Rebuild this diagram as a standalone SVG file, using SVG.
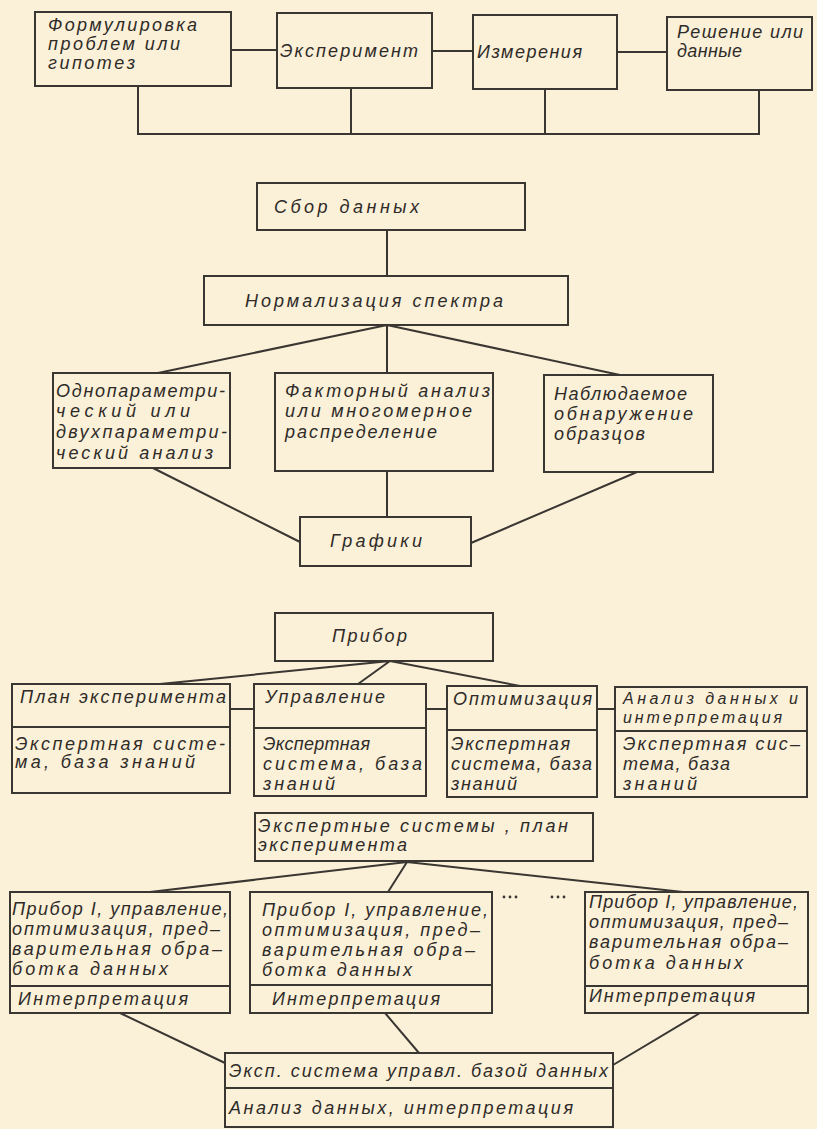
<svg xmlns="http://www.w3.org/2000/svg" width="817" height="1129" viewBox="0 0 817 1129">
<style>
.bg{fill:#fbf0d8}
.box{fill:none;stroke:#3a3632;stroke-width:2}
.ln{fill:none;stroke:#3a3632;stroke-width:2}
text{font-family:"Liberation Sans","DejaVu Sans",sans-serif;font-style:italic;font-size:18px;fill:#2e2b28}
.sm{font-size:16px}
.dot{fill:#3a3632}
</style>
<rect class="bg" x="0" y="0" width="817" height="1129"/>

<g id="connectors">
<path class="ln" d="M231,50 H277 M432,51 H473 M617,52 H667"/>
<path class="ln" d="M138,86 V134 H759 V90 M351,88 V134 M545,89 V134"/>
<path class="ln" d="M387,230 V276"/>
<path class="ln" d="M387,325 L158,373 M387,325 V373 M387,325 L620,375"/>
<path class="ln" d="M153,468 L300,542 M387,471 V517 M637,472 L471,543"/>
<path class="ln" d="M390,661 L160,684 M390,661 L358,684 M390,661 L520,686"/>
<path class="ln" d="M230,709 H254 M426,709 H447 M597,709 H615"/>
<path class="ln" d="M407,862 L150,892 M407,862 L388,892 M407,862 L683,892"/>
<path class="ln" d="M120,1013 L225,1063 M385,1013 L419,1053 M700,1013 L613,1065"/>
</g>

<g id="n-formulation">
<rect class="box" x="35" y="12" width="196" height="74"/>
<text x="48" y="31" textLength="149" lengthAdjust="spacing">Формулировка</text>
<text x="48" y="50" textLength="132" lengthAdjust="spacing">проблем  или</text>
<text x="48" y="69" textLength="87" lengthAdjust="spacing">гипотез</text>
</g>
<g id="n-experiment">
<rect class="box" x="277" y="13" width="155" height="75"/>
<text x="280" y="57" textLength="138" lengthAdjust="spacing">Эксперимент</text>
</g>
<g id="n-measure">
<rect class="box" x="473" y="15" width="144" height="74"/>
<text x="477" y="58" textLength="105" lengthAdjust="spacing">Измерения</text>
</g>
<g id="n-solution">
<rect class="box" x="667" y="17" width="145" height="73"/>
<text x="677" y="38" textLength="126" lengthAdjust="spacing">Решение или</text>
<text x="677" y="57" textLength="65" lengthAdjust="spacing">данные</text>
</g>

<g id="n-collect">
<rect class="box" x="257" y="183" width="268" height="47"/>
<text x="274" y="213" textLength="145" lengthAdjust="spacing">Сбор   данных</text>
</g>
<g id="n-normalize">
<rect class="box" x="204" y="276" width="364" height="49"/>
<text x="245" y="307" textLength="258" lengthAdjust="spacing">Нормализация  спектра</text>
</g>
<g id="n-oneparam">
<rect class="box" x="53" y="373" width="177" height="95"/>
<text x="56" y="397" textLength="169" lengthAdjust="spacing">Однопараметри-</text>
<text x="56" y="417" textLength="134" lengthAdjust="spacing">ческий  или</text>
<text x="56" y="438" textLength="171" lengthAdjust="spacing">двухпараметри-</text>
<text x="56" y="459" textLength="157" lengthAdjust="spacing">ческий  анализ</text>
</g>
<g id="n-factor">
<rect class="box" x="275" y="373" width="218" height="98"/>
<text x="285" y="397" textLength="205" lengthAdjust="spacing">Факторный  анализ</text>
<text x="285" y="417" textLength="187" lengthAdjust="spacing">или  многомерное</text>
<text x="285" y="438" textLength="152" lengthAdjust="spacing">распределение</text>
</g>
<g id="n-observed">
<rect class="box" x="544" y="375" width="169" height="97"/>
<text x="554" y="400" textLength="133" lengthAdjust="spacing">Наблюдаемое</text>
<text x="554" y="420" textLength="139" lengthAdjust="spacing">обнаружение</text>
<text x="554" y="440" textLength="91" lengthAdjust="spacing">образцов</text>
</g>
<g id="n-graphs">
<rect class="box" x="300" y="517" width="171" height="49"/>
<text x="330" y="547" textLength="92" lengthAdjust="spacing">Графики</text>
</g>

<g id="n-device">
<rect class="box" x="275" y="613" width="218" height="48"/>
<text x="332" y="642" textLength="75" lengthAdjust="spacing">Прибор</text>
</g>
<g id="n-plan">
<rect class="box" x="12" y="684" width="218" height="109"/>
<line class="ln" x1="12" y1="727" x2="230" y2="727"/>
<text x="20" y="703" textLength="206" lengthAdjust="spacing">План  эксперимента</text>
<text x="15" y="750" textLength="210" lengthAdjust="spacing">Экспертная  систе-</text>
<text x="15" y="768" textLength="180" lengthAdjust="spacing">ма, база  знаний</text>
</g>
<g id="n-control">
<rect class="box" x="254" y="684" width="172" height="112"/>
<line class="ln" x1="254" y1="728" x2="426" y2="728"/>
<text x="265" y="703" textLength="120" lengthAdjust="spacing">Управление</text>
<text x="263" y="750" textLength="107" lengthAdjust="spacing">Экспертная</text>
<text x="263" y="770" textLength="159" lengthAdjust="spacing">система, база</text>
<text x="263" y="790" textLength="72" lengthAdjust="spacing">знаний</text>
</g>
<g id="n-optim">
<rect class="box" x="447" y="686" width="150" height="111"/>
<line class="ln" x1="447" y1="730" x2="597" y2="730"/>
<text x="453" y="705" textLength="139" lengthAdjust="spacing">Оптимизация</text>
<text x="451" y="750" textLength="119" lengthAdjust="spacing">Экспертная</text>
<text x="451" y="770" textLength="141" lengthAdjust="spacing">система, база</text>
<text x="451" y="790" textLength="66" lengthAdjust="spacing">знаний</text>
</g>
<g id="n-analysis">
<rect class="box" x="615" y="687" width="192" height="110"/>
<line class="ln" x1="615" y1="731" x2="807" y2="731"/>
<text class="sm" x="623" y="704" textLength="175" lengthAdjust="spacing">Анализ  данных  и</text>
<text class="sm" x="623" y="723" textLength="159" lengthAdjust="spacing">интерпретация</text>
<text x="623" y="750" textLength="177" lengthAdjust="spacing">Экспертная  сис–</text>
<text x="623" y="770" textLength="107" lengthAdjust="spacing">тема, база</text>
<text x="623" y="790" textLength="74" lengthAdjust="spacing">знаний</text>
</g>

<g id="n-expsys">
<rect class="box" x="255" y="813" width="338" height="48"/>
<text x="258" y="832" textLength="310" lengthAdjust="spacing">Экспертные  системы ,  план</text>
<text x="258" y="851" textLength="149" lengthAdjust="spacing">эксперимента</text>
</g>
<g id="n-dev1">
<rect class="box" x="10" y="892" width="220" height="121"/>
<line class="ln" x1="10" y1="986" x2="230" y2="986"/>
<text x="12" y="915" textLength="216" lengthAdjust="spacing">Прибор I, управление,</text>
<text x="12" y="935" textLength="208" lengthAdjust="spacing">оптимизация, пред–</text>
<text x="12" y="955" textLength="210" lengthAdjust="spacing">варительная обра–</text>
<text x="12" y="975" textLength="156" lengthAdjust="spacing">ботка  данных</text>
<text x="18" y="1005" textLength="170" lengthAdjust="spacing">Интерпретация</text>
</g>
<g id="n-dev2">
<rect class="box" x="250" y="892" width="242" height="121"/>
<line class="ln" x1="250" y1="985" x2="492" y2="985"/>
<text x="262" y="916" textLength="226" lengthAdjust="spacing">Прибор I, управление,</text>
<text x="262" y="936" textLength="218" lengthAdjust="spacing">оптимизация, пред–</text>
<text x="262" y="956" textLength="213" lengthAdjust="spacing">варительная обра–</text>
<text x="262" y="976" textLength="150" lengthAdjust="spacing">ботка  данных</text>
<text x="272" y="1005" textLength="168" lengthAdjust="spacing">Интерпретация</text>
</g>
<g id="dots">
<circle class="dot" cx="504" cy="897" r="1.4"/>
<circle class="dot" cx="510" cy="897" r="1.4"/>
<circle class="dot" cx="516" cy="897" r="1.4"/>
<circle class="dot" cx="552" cy="897" r="1.4"/>
<circle class="dot" cx="558" cy="897" r="1.4"/>
<circle class="dot" cx="564" cy="897" r="1.4"/>
</g>
<g id="n-devN">
<rect class="box" x="585" y="892" width="223" height="121"/>
<line class="ln" x1="585" y1="986" x2="808" y2="986"/>
<text x="589" y="908" textLength="209" lengthAdjust="spacing">Прибор I, управление,</text>
<text x="589" y="928" textLength="199" lengthAdjust="spacing">оптимизация, пред–</text>
<text x="589" y="948" textLength="199" lengthAdjust="spacing">варительная обра–</text>
<text x="589" y="969" textLength="154" lengthAdjust="spacing">ботка  данных</text>
<text x="589" y="1002" textLength="166" lengthAdjust="spacing">Интерпретация</text>
</g>
<g id="n-dbms">
<rect class="box" x="225" y="1053" width="388" height="74"/>
<line class="ln" x1="225" y1="1088" x2="613" y2="1088"/>
<text x="229" y="1077" textLength="379" lengthAdjust="spacing">Эксп. система управл. базой данных</text>
<text x="229" y="1114" textLength="344" lengthAdjust="spacing">Анализ  данных, интерпретация</text>
</g>
</svg>
